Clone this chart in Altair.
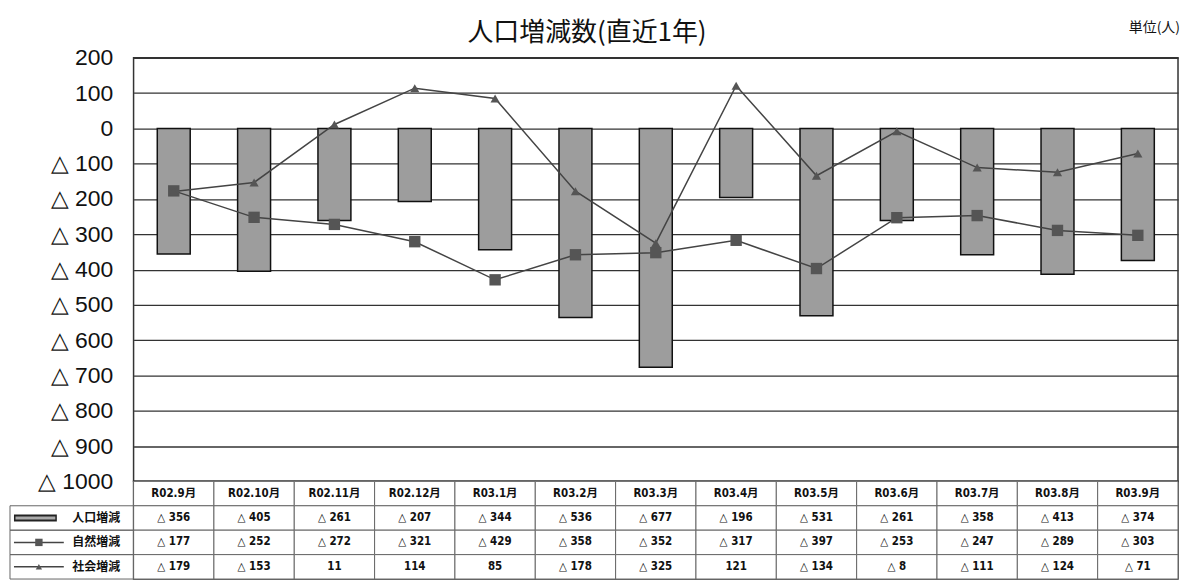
import altair as alt
import pandas as pd

months = ["R02.9月", "R02.10月", "R02.11月", "R02.12月", "R03.1月", "R03.2月", "R03.3月",
          "R03.4月", "R03.5月", "R03.6月", "R03.7月", "R03.8月", "R03.9月"]
total = [-356, -405, -261, -207, -344, -536, -677, -196, -531, -261, -358, -413, -374]
natural = [-177, -252, -272, -321, -429, -358, -352, -317, -397, -253, -247, -289, -303]
social = [-179, -153, 11, 114, 85, -178, -325, 121, -134, -8, -111, -124, -71]
series_names = ["人口増減", "自然増減", "社会増減"]
y_ticks = list(range(-1000, 201, 100))
title_text = "人口増減数(直近1年)"
unit_text = "単位(人)"


def fmt(v):
    return f"△ {-v}" if v < 0 else str(v)


JP = "Noto Sans CJK JP"
W = 1048
LEFT = 124

bars_df = pd.DataFrame({"month": months, "value": total})
lines_df = pd.DataFrame({
    "month": months * 2,
    "series": ["自然増減"] * len(months) + ["社会増減"] * len(months),
    "value": natural + social,
})

xs = alt.Scale(paddingInner=0, paddingOuter=0)
x = alt.X("month:N", sort=months, scale=xs, axis=None)
y = alt.Y(
    "value:Q",
    scale=alt.Scale(domain=[-1000, 200], nice=False, zero=False),
    axis=alt.Axis(
        values=y_ticks,
        labelExpr="datum.value < 0 ? '△ ' + (-datum.value) : '' + datum.value",
        labelFontSize=23, labelFont="Liberation Sans", labelColor="#111",
        labelPadding=21, ticks=False, domain=False, grid=True,
        gridColor="#333", gridWidth=1.3, title=None,
    ),
)

bars = alt.Chart(bars_df).mark_bar(
    width=alt.RelativeBandSize(0.41), fill="#9d9d9d", stroke="#111", strokeWidth=1.5
).encode(x=x, y=y)

lines = alt.Chart(lines_df).mark_line(color="#444", strokeWidth=1.5).encode(
    x=x, y=y, detail="series:N"
)
pts_sq = alt.Chart(lines_df).transform_filter(alt.datum.series == "自然増減").mark_point(
    shape="square", filled=True, opacity=1, color="#555", size=130
).encode(x=x, y=y)
pts_tri = alt.Chart(lines_df).transform_filter(alt.datum.series == "社会増減").mark_point(
    shape="triangle-up", filled=True, opacity=1, color="#555", size=85
).encode(x=x, y=y)

title_mark = alt.Chart(pd.DataFrame({"t": [title_text]})).mark_text(
    fontSize=26, font=JP, baseline="middle", align="center", color="#111"
).encode(text="t:N", x=alt.value(455), y=alt.value(-25))
unit_mark = alt.Chart(pd.DataFrame({"t": [unit_text]})).mark_text(
    fontSize=14, font=JP, baseline="middle", align="right", color="#111"
).encode(text="t:N", x=alt.value(W + 2), y=alt.value(-30))

main = alt.layer(bars, lines, pts_sq, pts_tri, title_mark, unit_mark).properties(
    width=W, height=425
)

# ---- data table ----
rows = ["hdr"] + series_names
cell_rows, cell_months, cell_text = [], [], []
for i, m in enumerate(months):
    vals = [m, fmt(total[i]), fmt(natural[i]), fmt(social[i])]
    for r, t in zip(rows, vals):
        cell_rows.append(r)
        cell_months.append(m)
        cell_text.append(t)
cells_df = pd.DataFrame({"row": cell_rows, "month": cell_months, "text": cell_text})

ty = alt.Y(
    "row:N", sort=rows, scale=alt.Scale(paddingInner=0, paddingOuter=0),
    axis=alt.Axis(
        labelExpr="datum.value == 'hdr' ? '' : datum.value",
        labelFontSize=12, labelFontWeight="bold", labelFont=JP, labelColor="#111",
        labelPadding=14, ticks=False, domain=False, title=None,
    ),
)

cell_rects = alt.Chart(cells_df).mark_rect(fill="white", stroke="#666", strokeWidth=1).encode(
    x=x, y=ty
)
cell_txt = alt.Chart(cells_df).mark_text(
    fontSize=11.5, fontWeight="bold", font="Liberation Sans Narrow, DejaVu Sans Condensed, " + JP,
    color="#111",
).encode(x=x, y=ty, text="text:N")

label_df = pd.DataFrame({"row": series_names})
label_rects = alt.Chart(label_df).mark_rect(
    fill="white", fillOpacity=0, stroke="#666", strokeWidth=1
).encode(x=alt.value(-LEFT), x2=alt.value(0), y=ty)

sw_outer = alt.Chart(label_df).transform_filter(alt.datum.row == "人口増減").mark_rule(
    strokeWidth=7, color="#222"
).encode(x=alt.value(-120), x2=alt.value(-77), y=ty)
sw_inner = alt.Chart(label_df).transform_filter(alt.datum.row == "人口増減").mark_rule(
    strokeWidth=3, color="#aaa"
).encode(x=alt.value(-118.5), x2=alt.value(-78.5), y=ty)
lg_lines = alt.Chart(label_df).transform_filter(alt.datum.row != "人口増減").mark_rule(
    strokeWidth=1.5, color="#444"
).encode(x=alt.value(-120), x2=alt.value(-70), y=ty)
lg_sq = alt.Chart(label_df).transform_filter(alt.datum.row == "自然増減").mark_point(
    shape="square", filled=True, opacity=1, color="#555", size=55
).encode(x=alt.value(-95), y=ty)
lg_tri = alt.Chart(label_df).transform_filter(alt.datum.row == "社会増減").mark_point(
    shape="triangle-up", filled=True, opacity=1, color="#555", size=40
).encode(x=alt.value(-95), y=ty)

table = alt.layer(
    cell_rects, cell_txt, label_rects, sw_outer, sw_inner, lg_lines, lg_sq, lg_tri
).properties(width=W, height=98)

chart = alt.vconcat(main, table, spacing=0, bounds="flush").resolve_scale(
    x="independent", y="independent"
).properties(
    padding={"left": 0, "top": 10, "right": 0, "bottom": 0}, background="white"
).configure_view(stroke="#333", strokeWidth=1.5)

chart.save("out.html", embed_options={"renderer": "svg", "actions": False})
